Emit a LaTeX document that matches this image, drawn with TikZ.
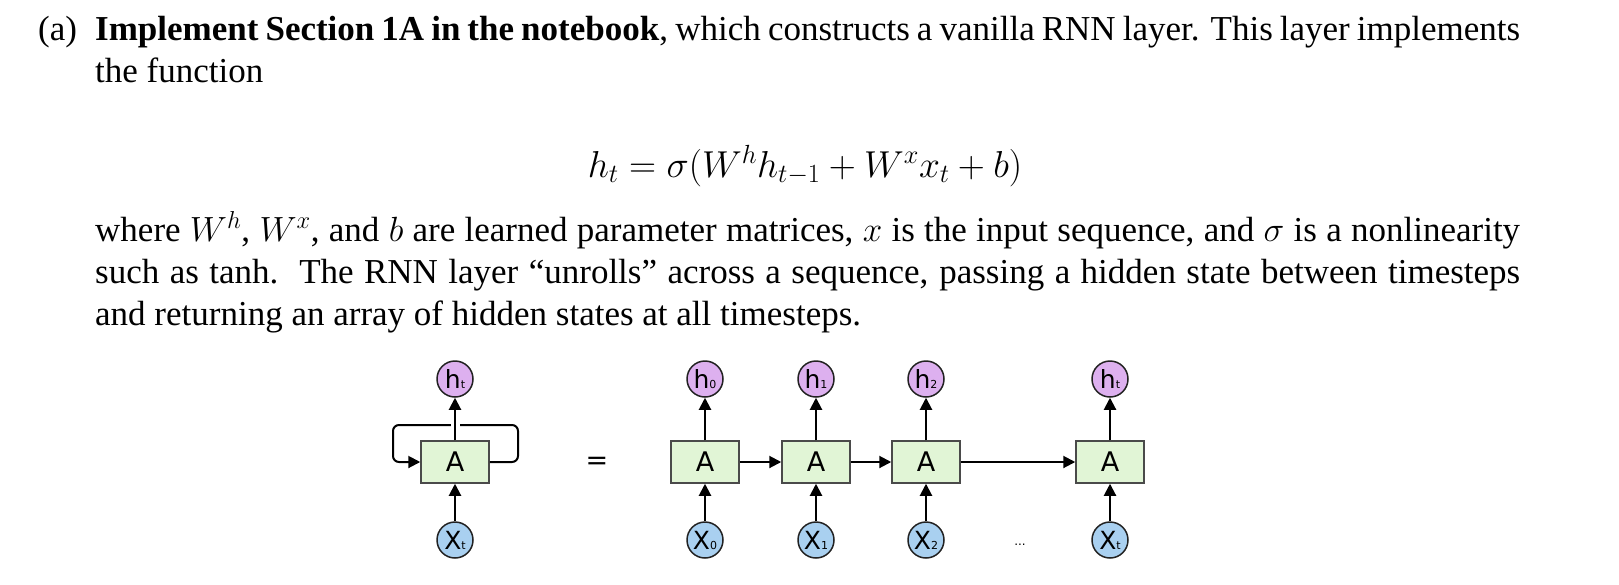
\RequirePackage{fix-cm}
\documentclass[tikz,border=0pt]{standalone}
\usepackage[no-math]{fontspec}
\setmainfont{Liberation Serif}
\newfontfamily\djv{DejaVu Sans}
\usetikzlibrary{arrows.meta}
\definecolor{boxfill}{HTML}{E1F5D6}
\definecolor{boxborder}{HTML}{4A4A4A}
\definecolor{hfill}{HTML}{DDB0EF}
\definecolor{xfill}{HTML}{A9D0F0}
\definecolor{circborder}{HTML}{222222}
\newcommand{\lbl}[2]{{\fontsize{25}{25}\selectfont #1}{\fontsize{11}{11}\selectfont #2}}
\tikzset{
  txt/.style={anchor=base west, inner sep=0pt, font=\fontsize{35}{42}\selectfont},
  cellbox/.style={draw=boxborder, fill=boxfill, line width=1.5pt, minimum width=68pt, minimum height=42pt, inner sep=0pt, font=\djv\fontsize{27}{27}\selectfont},
  hcirc/.style={circle, draw=circborder, fill=hfill, line width=1.5pt, minimum size=36pt, inner sep=0pt, font=\djv},
  xcirc/.style={circle, draw=circborder, fill=xfill, line width=1.5pt, minimum size=36pt, inner sep=0pt, font=\djv},
  arr/.style={-{Triangle[length=12pt,width=12pt]}, line width=2pt, black},
}
\begin{document}
\begin{tikzpicture}[x=1pt,y=-1pt]
\useasboundingbox (0,0) rectangle (1619,584);
% text
\node[txt] (lab) at (38,40) {(a)};
\node[txt] (l1) at (95,40) {\makebox[1425pt][s]{\textbf{Implement Section 1A in the notebook}, which constructs a vanilla RNN layer. This layer implements}};
\node[txt] (l2) at (95,82.5) {the function};
\node[anchor=base, inner sep=0pt, font=\fontsize{37.5}{42}\selectfont] (eq) at (805,177) {$h_t = \sigma(W^h h_{t-1} + W^x x_t + b)$};
\node[txt] (p1) at (95,241) {\makebox[1425pt][s]{where $W^h$, $W^x$, and $b$ are learned parameter matrices, $x$ is the input sequence, and $\sigma$ is a nonlinearity}};
\node[txt] (p2) at (95,283) {\makebox[1425pt][s]{such as tanh.\ \ The RNN layer ``unrolls'' across a sequence, passing a hidden state between timesteps}};
\node[txt] (p3) at (95,325) {and returning an array of hidden states at all timesteps.};
% folded RNN
\node[cellbox] (A) at (455,462) {A};
\node[hcirc] (h) at (455,379) {\lbl{h}{t}};
\node[xcirc] (x) at (455,540) {\lbl{X}{t}};
\coordinate (loopR) at (518,425);
\coordinate (loopL) at (393,425);
\draw[arr, rounded corners=6pt] (A.east) -| (loopR) -- (loopL) |- (A.west);
\draw[white, line width=9pt] ([yshift=-5pt]A.north |- loopR) -- ([yshift=5pt]A.north |- loopR);
\draw[arr] (x) -- (A);
\draw[arr] (A) -- (h);
\node[font=\djv\fontsize{27}{27}\selectfont, inner sep=0pt] (eqsign) at (597,463) {=};
% unrolled
\foreach \i/\xx/\s in {0/705/0,1/816/1,2/926/2,3/1110/t}{
  \node[cellbox] (A\i) at (\xx,462) {A};
  \node[hcirc] (h\i) at (\xx,379) {\lbl{h}{\s}};
  \node[xcirc] (x\i) at (\xx,540) {\lbl{X}{\s}};
  \draw[arr] (x\i) -- (A\i);
  \draw[arr] (A\i) -- (h\i);
}
\draw[arr] (A0) -- (A1);
\draw[arr] (A1) -- (A2);
\draw[arr] (A2) -- (A3);
\node[font=\djv\fontsize{12}{12}\selectfont, inner sep=0pt] (dots) at (1020,545) {...};
\end{tikzpicture}
\end{document}
